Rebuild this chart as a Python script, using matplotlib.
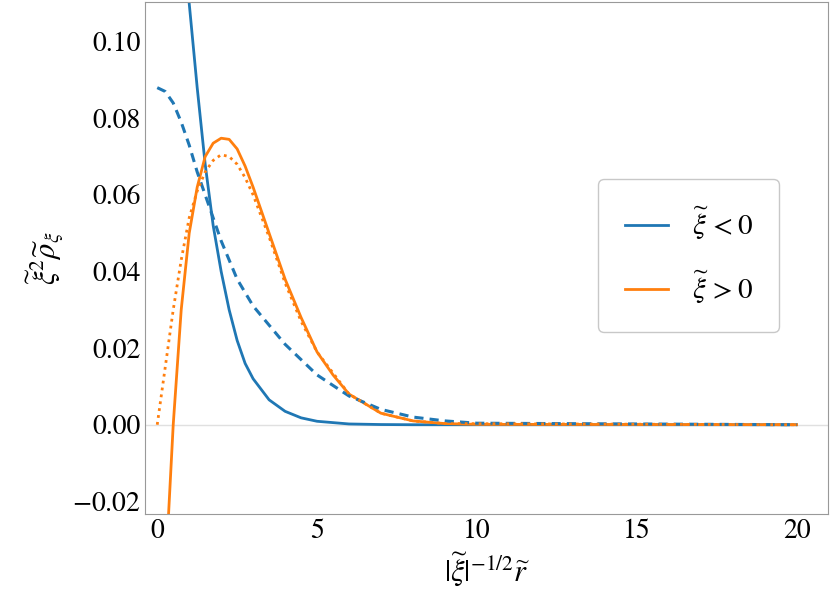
import matplotlib
matplotlib.use("Agg")
import matplotlib.pyplot as plt

plt.rcParams["mathtext.fontset"] = "stix"
plt.rcParams["font.family"] = "STIXGeneral"

# blue solid (xi < 0)
bs_x = [0.45, 0.6, 0.8, 1.0, 1.25, 1.5, 1.75, 2.0, 2.25, 2.5, 2.75, 3.0, 3.5, 4.0, 4.5, 5.0, 6.0, 7.0, 8.0, 20.0]
bs_y = [0.22, 0.17, 0.135, 0.11, 0.088, 0.068, 0.052, 0.040, 0.030, 0.022, 0.016, 0.012, 0.0065,
        0.0035, 0.0018, 0.0009, 0.0002, 0.00005, 0.0, 0.0]
# blue dashed
bd_x = [0.0, 0.25, 0.5, 0.75, 1.0, 1.25, 1.5, 1.75, 2.0, 2.5, 3.0, 3.5, 4.0, 4.5, 5.0, 6.0, 7.0, 8.0,
        9.0, 10.0, 20.0]
bd_y = [0.088, 0.087, 0.084, 0.079, 0.073, 0.066, 0.06, 0.054, 0.048, 0.038, 0.031, 0.026, 0.021,
        0.017, 0.013, 0.0075, 0.004, 0.002, 0.001, 0.0004, 0.0]
# orange solid (xi > 0)
os_x = [0.35, 0.5, 0.75, 1.0, 1.25, 1.5, 1.75, 2.0, 2.25, 2.5, 2.75, 3.0, 3.5, 4.0, 4.5, 5.0, 5.5,
        6.0, 7.0, 8.0, 9.0, 10.0, 20.0]
os_y = [-0.024, 0.0, 0.03, 0.05, 0.062, 0.07, 0.0735, 0.0748, 0.0745, 0.072, 0.0675, 0.062, 0.05,
        0.038, 0.028, 0.019, 0.013, 0.008, 0.003, 0.001, 0.0003, 0.0001, 0.0]
# orange dotted
od_x = [0.0, 0.25, 0.5, 0.75, 1.0, 1.25, 1.5, 1.75, 2.0, 2.25, 2.5, 2.75, 3.0, 3.5, 4.0, 4.5, 5.0,
        6.0, 7.0, 8.0, 9.0, 20.0]
od_y = [0.0, 0.015, 0.03, 0.043, 0.054, 0.061, 0.066, 0.069, 0.0705, 0.070, 0.068, 0.0645, 0.06,
        0.049, 0.037, 0.027, 0.019, 0.008, 0.003, 0.001, 0.0003, 0.0]

blue, orange = "#1f77b4", "#ff7f0e"
fig, ax = plt.subplots(figsize=(8.3, 6.16), dpi=100)
fig.subplots_adjust(left=0.175, right=0.997, top=0.997, bottom=0.165)
ax.axhline(0, color="#e0e0e0", lw=1, zorder=0)
ax.plot(bs_x, bs_y, color=blue, lw=2, label=r"$\widetilde{\xi}\,<0$")
ax.plot(os_x, os_y, color=orange, lw=2, label=r"$\widetilde{\xi}\,>0$")
ax.plot(bd_x, bd_y, color=blue, lw=2.2, ls=(0, (3, 2)))
ax.plot(od_x, od_y, color=orange, lw=2, ls=(0, (1, 1.5)))
ax.set_xlim(-0.375, 20.97)
ax.set_ylim(-0.0234, 0.1104)
ax.set_xticks([0, 5, 10, 15, 20])
ax.set_yticks([-0.02, 0, 0.02, 0.04, 0.06, 0.08, 0.10])
ax.set_yticklabels(["$-$0.02", "0.00", "0.02", "0.04", "0.06", "0.08", "0.10"])
ax.tick_params(direction="in", labelsize=20, length=0)
for s in ax.spines.values():
    s.set_color("#999999")
ax.set_xlabel(r"$|\widetilde{\xi}|^{-1/2}\widetilde{r}$", fontsize=22)
ax.set_ylabel(r"$\widetilde{\xi}^2\widetilde{\rho}_\xi$", fontsize=22)
leg = ax.legend(loc="center right", bbox_to_anchor=(0.95, 0.505), fontsize=21,
                handlelength=1.5, borderpad=0.9, labelspacing=0.9, fancybox=True)
leg.get_frame().set_edgecolor("#bbbbbb")
fig.savefig("out.png")
